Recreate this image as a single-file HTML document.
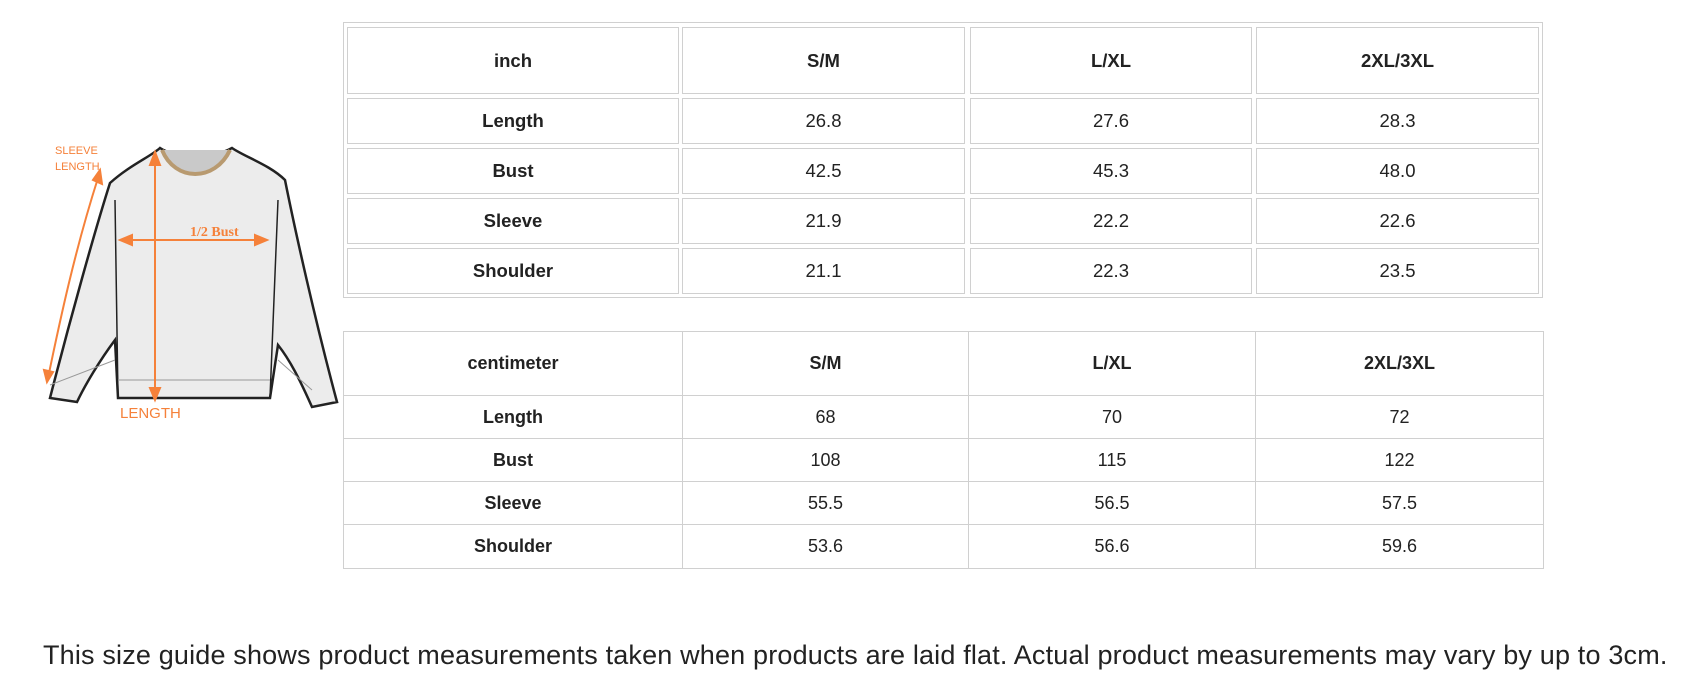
<!DOCTYPE html>
<html><head><meta charset="utf-8"><style>
body{margin:0;width:1702px;height:695px;background:#fff;position:relative;overflow:hidden;font-family:"Liberation Sans",Arial,sans-serif;color:#222}
.t1{position:absolute;left:343px;top:22px;width:1200px;height:276px;border:1px solid #d0d0d0;box-sizing:border-box}
.c{position:absolute;border:1px solid #d0d0d0;box-sizing:border-box;display:flex;align-items:center;justify-content:center;font-size:18.5px}
.b{font-weight:bold}
.foot{position:absolute;left:43px;top:642px;font-size:27px;letter-spacing:0.17px;color:#222;white-space:nowrap;line-height:1}
</style></head><body>
<div class="t1"></div>
<div id="g1"></div>
<div id="g2"></div>
<svg style="position:absolute;left:0;top:0" width="340" height="420">
 <path d="M110 183 C130 165 150 157 160 148 C175 158 210 160 232 148 C245 157 270 165 285 180 C295 230 315 320 337 402 L312 407 C300 380 290 360 278 345 L270 398 L118 398 L115 340 C100 360 85 385 77 402 L50 398 C70 320 95 230 110 183 Z" fill="#ececec" stroke="#222" stroke-width="2.5"/>
 <path d="M162 150 C175 182 215 182 230 150" fill="#c9c9c9" stroke="#b89a70" stroke-width="4"/>
 <path d="M115 200 L118 398 M278 200 L270 398" stroke="#222" stroke-width="1.5" fill="none"/>
 <path d="M118 380 L270 380 M50 385 L115 360 M312 390 L278 360" stroke="#999" stroke-width="1" fill="none"/>
 <g stroke="#f5813a" stroke-width="2" fill="#f5813a">
  <line x1="155" y1="155" x2="155" y2="398"/>
  <polygon points="150,165 155,152 160,165"/><polygon points="150,388 155,400 160,388"/>
  <line x1="122" y1="240" x2="265" y2="240"/>
  <polygon points="132,235 120,240 132,245"/><polygon points="255,235 267,240 255,245"/>
  <path d="M98 178 C75 250 60 320 48 378" fill="none"/>
  <polygon points="93,180 100,170 102,184"/><polygon points="44,370 47,382 53,372"/>
 </g>
 <g fill="#f5813a" font-family="Liberation Sans,Arial,sans-serif">
  <text x="55" y="154" font-size="11">SLEEVE</text>
  <text x="55" y="170" font-size="11">LENGTH</text>
  <text x="190" y="236" font-size="14" font-family="Liberation Serif,serif" font-weight="bold">1/2 Bust</text>
  <text x="120" y="418" font-size="15">LENGTH</text>
 </g>
</svg>
<div class="foot">This size guide shows product measurements taken when products are laid flat. Actual product measurements may vary by up to 3cm.</div>
<script>
var cx=[[347,679],[682,965],[970,1252],[1256,1539]];
var ry=[[26,93],[97,143],[147,193],[197,243],[247,293]];
var d1=[["inch","S/M","L/XL","2XL/3XL"],["Length","26.8","27.6","28.3"],["Bust","42.5","45.3","48.0"],["Sleeve","21.9","22.2","22.6"],["Shoulder","21.1","22.3","23.5"]];
var h="";
for(var r=0;r<5;r++)for(var c=0;c<4;c++){
 var b=(r==0||c==0)?" b":"";
 h+='<div class="c'+b+'" style="left:'+cx[c][0]+'px;top:'+(ry[r][0]+1)+'px;width:'+(cx[c][1]-cx[c][0])+'px;height:'+(ry[r][1]-ry[r][0])+'px">'+d1[r][c]+'</div>';}
document.getElementById("g1").innerHTML=h;
var cx2=[343,682,968,1255,1543];
var ry2=[331,395,438,481,524,568];
var d2=[["centimeter","S/M","L/XL","2XL/3XL"],["Length","68","70","72"],["Bust","108","115","122"],["Sleeve","55.5","56.5","57.5"],["Shoulder","53.6","56.6","59.6"]];
h="";
for(var r=0;r<5;r++)for(var c=0;c<4;c++){
 var b=(r==0||c==0)?" b":"";
 h+='<div class="c'+b+'" style="font-size:18px;left:'+cx2[c]+'px;top:'+ry2[r]+'px;width:'+(cx2[c+1]-cx2[c]+1)+'px;height:'+(ry2[r+1]-ry2[r]+1)+'px">'+d2[r][c]+'</div>';}
document.getElementById("g2").innerHTML=h;
</script>
</body></html>
